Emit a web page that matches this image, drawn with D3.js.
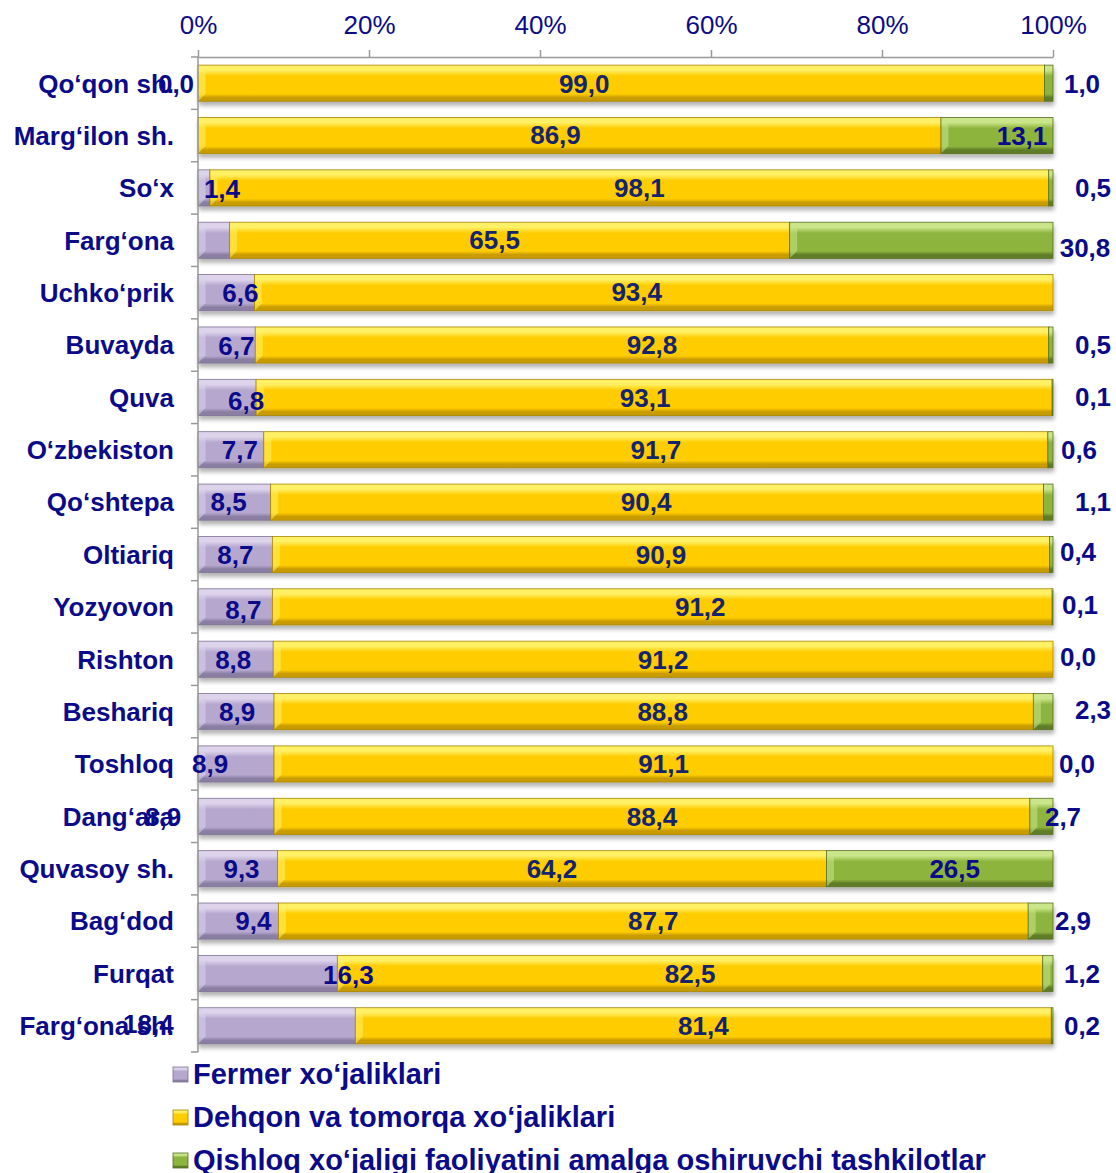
<!DOCTYPE html>
<html>
<head>
<meta charset="utf-8">
<script src="https://cdn.jsdelivr.net/npm/d3@7"></script>
<style>
  html, body { margin: 0; padding: 0; background: #fff; }
  svg { display: block; font-family: "Liberation Sans", Arial, sans-serif; }
</style>
</head>
<body>
<svg width="1116" height="1173"></svg>
<script>
// categories, top to bottom
const categories = [
  'Qo‘qon sh.', 'Marg‘ilon sh.', 'So‘x', 'Farg‘ona', 'Uchko‘prik', 'Buvayda', 'Quva',
  'O‘zbekiston', 'Qo‘shtepa', 'Oltiariq', 'Yozyovon', 'Rishton', 'Beshariq', 'Toshloq',
  'Dang‘ara', 'Quvasoy sh.', 'Bag‘dod', 'Furqat', 'Farg‘ona sh.'
];

const fermer = [0.0, 0.0, 1.4, 3.7, 6.6, 6.7, 6.8, 7.7, 8.5, 8.7, 8.7, 8.8, 8.9, 8.9, 8.9, 9.3, 9.4, 16.3, 18.4];
const dehqon = [99.0, 86.9, 98.1, 65.5, 93.4, 92.8, 93.1, 91.7, 90.4, 90.9, 91.2, 91.2, 88.8, 91.1, 88.4, 64.2, 87.7, 82.5, 81.4];
const qishloq = [1.0, 13.1, 0.5, 30.8, 0.0, 0.5, 0.1, 0.6, 1.1, 0.4, 0.1, 0.0, 2.3, 0.0, 2.7, 26.5, 2.9, 1.2, 0.2];

const seriesNames = [
  'Fermer xo‘jaliklari',
  'Dehqon va tomorqa xo‘jaliklari',
  'Qishloq xo‘jaligi faoliyatini amalga oshiruvchi tashkilotlar'
];

const xTicks = [0, 20, 40, 60, 80, 100];

// labels that the original chart leaves out
const hiddenLabels = {
  0: ['Marg‘ilon sh.', 'Farg‘ona'],
  1: [],
  2: ['Uchko‘prik']
};
// green labels that sit inside their bar
const insideGreen = { 'Marg‘ilon sh.': 'end', 'Quvasoy sh.': 'center' };

// hand placed label tweaks [dx, dy] as in the source chart
const nudges = [
  {
    'So‘x': [34, 1], 'Uchko‘prik': [8, 0], 'Buvayda': [3, 1], 'Quva': [12, 3],
    'O‘zbekiston': [-2, 0], 'Qo‘shtepa': [-20, 0], 'Oltiariq': [-15, 0], 'Yozyovon': [-7, 3],
    'Rishton': [-18, 0], 'Beshariq': [-15, 0], 'Toshloq': [-42, 0], 'Dang‘ara': [-89, 0],
    'Quvasoy sh.': [-14, 0], 'Bag‘dod': [-3, 0], 'Furqat': [33, 1], 'Farg‘ona sh.': [-185, -2]
  },
  {
    'Qo‘qon sh.': [-37, 0], 'Marg‘ilon sh.': [-14, -1], 'So‘x': [10, 0], 'Farg‘ona': [-15, -1],
    'Uchko‘prik': [-17, -1], 'Quva': [-9, 0], 'Qo‘shtepa': [-11, 0], 'Yozyovon': [38, 0],
    'Beshariq': [9, 0]
  },
  {
    'So‘x': [11, 0], 'Farg‘ona': [3, 7], 'Buvayda': [11, 0], 'Quva': [11, -1], 'O‘zbekiston': [-3, 0],
    'Qo‘shtepa': [11, 0], 'Oltiariq': [-4, -3], 'Yozyovon': [-2, -2], 'Rishton': [-4, -3],
    'Beshariq': [11, -2], 'Toshloq': [-5, 0], 'Dang‘ara': [-19, 0], 'Bag‘dod': [-9, 0]
  }
];

const colors = [
  { main: '#b6a7cf', light: '#ddd4ec', dark: '#8a7fa2', line: '#7d7292' },
  { main: '#ffcc00', light: '#fff066', dark: '#c89b00', line: '#a88600' },
  { main: '#8db43e', light: '#cbe68a', dark: '#5f7d28', line: '#566f25' }
];

const navy = '#0b0b8a';

const svg = d3.select('svg');
const defs = svg.append('defs');

colors.forEach((c, i) => {
  const g = defs.append('linearGradient')
    .attr('id', `grad-${i}`)
    .attr('x1', 0).attr('y1', 0).attr('x2', 0).attr('y2', 1);
  [[0, c.light], [0.14, c.light], [0.3, c.main], [0.8, c.main], [0.9, c.dark], [1, c.dark]]
    .forEach(([o, col]) => g.append('stop').attr('offset', o).attr('stop-color', col));
});

const shadow = defs.append('filter').attr('id', 'shadow')
  .attr('x', '-5%').attr('y', '-30%').attr('width', '110%').attr('height', '180%');
shadow.append('feGaussianBlur').attr('in', 'SourceAlpha').attr('stdDeviation', 2.2);
shadow.append('feOffset').attr('dx', 1).attr('dy', 4).attr('result', 'blur');
shadow.append('feComponentTransfer').append('feFuncA').attr('type', 'linear').attr('slope', 0.3);
const merge = shadow.append('feMerge');
merge.append('feMergeNode');
merge.append('feMergeNode').attr('in', 'SourceGraphic');

const x = d3.scaleLinear().domain([0, 100]).range([198, 1053]);
const y = d3.scaleBand().domain(categories).range([57, 1052]).paddingInner(0.31).paddingOuter(0.155);

const rows = categories.map((name, i) => ({ name, values: [fermer[i], dehqon[i], qishloq[i]] }));
const segments = [];
rows.forEach((r) => {
  let start = 0;
  r.values.forEach((v, s) => {
    segments.push({ name: r.name, s, v, x0: start, x1: start + v });
    start += v;
  });
});

// bars
const barG = svg.append('g').attr('filter', 'url(#shadow)');
barG.selectAll('rect')
  .data(segments.filter(d => d.v > 0))
  .join('rect')
  .attr('x', d => x(d.x0))
  .attr('y', d => y(d.name))
  .attr('width', d => x(d.x1) - x(d.x0))
  .attr('height', y.bandwidth())
  .attr('fill', d => `url(#grad-${d.s})`)
  .attr('stroke', d => colors[d.s].line)
  .attr('stroke-width', 0.8);

// left bevel highlight
svg.append('g').selectAll('path')
  .data(segments.filter(d => x(d.x1) - x(d.x0) > 10))
  .join('path')
  .attr('d', (d) => {
    const x0 = x(d.x0) + 0.5, y0 = y(d.name) + 0.5, h = y.bandwidth() - 1, b = 7;
    return `M${x0},${y0}L${x0 + b},${y0 + b}L${x0 + b},${y0 + h - b}L${x0},${y0 + h}Z`;
  })
  .attr('fill', d => colors[d.s].light)
  .attr('opacity', 0.55);

// top axis
const xAxis = svg.append('g')
  .attr('transform', 'translate(0,57)')
  .call(d3.axisTop(x).tickValues(xTicks).tickFormat(d => `${d}%`).tickSize(7).tickSizeOuter(0));
xAxis.select('.domain').attr('stroke', '#999').attr('stroke-width', 1.5);
xAxis.selectAll('.tick line').attr('stroke', '#999').attr('stroke-width', 1.5);
xAxis.selectAll('.tick text')
  .attr('y', -23)
  .attr('fill', navy)
  .attr('font-size', 26)
  .attr('font-family', '"Liberation Sans", Arial, sans-serif');

// left axis line with ticks between categories
const leftG = svg.append('g').attr('stroke', '#999').attr('stroke-width', 1.5);
leftG.append('line').attr('x1', 198).attr('x2', 198).attr('y1', 57).attr('y2', 1052);
const bounds = d3.range(categories.length + 1).map(i => 57 + i * y.step());
leftG.selectAll('.tk').data(bounds).join('line')
  .attr('class', 'tk')
  .attr('x1', 191).attr('x2', 198)
  .attr('y1', d => d).attr('y2', d => d);

// category labels
svg.append('g').selectAll('text')
  .data(categories)
  .join('text')
  .attr('x', 174)
  .attr('y', d => y(d) + y.bandwidth() / 2)
  .attr('dy', '0.36em')
  .attr('text-anchor', 'end')
  .attr('font-size', 26)
  .attr('font-weight', 'bold')
  .attr('fill', navy)
  .text(d => d);

// value labels
const fmt = v => v.toFixed(1).replace('.', ',');
function labelPos(d) {
  const [dx, dy] = (nudges[d.s][d.name]) || [0, 0];
  let cx;
  if (d.s === 0) cx = x(d.x1) - 22;
  else if (d.s === 1) cx = (x(d.x0) + x(d.x1)) / 2;
  else if (insideGreen[d.name] === 'center') cx = (x(d.x0) + x(d.x1)) / 2 + 15;
  else if (insideGreen[d.name] === 'end') cx = x(d.x1) - 31;
  else cx = 1082;
  return [cx + dx, y(d.name) + y.bandwidth() / 2 + dy];
}

svg.append('g').selectAll('text')
  .data(segments.filter(d => !hiddenLabels[d.s].includes(d.name)))
  .join('text')
  .attr('x', d => labelPos(d)[0])
  .attr('y', d => labelPos(d)[1])
  .attr('dy', '0.36em')
  .attr('text-anchor', 'middle')
  .attr('font-size', 26)
  .attr('font-weight', 'bold')
  .attr('fill', d => (d.s === 1 ? '#15246e' : navy))
  .text(d => fmt(d.v));

// legend
const legend = svg.append('g').selectAll('g')
  .data(seriesNames)
  .join('g')
  .attr('transform', (d, i) => `translate(173,${1074 + i * 43})`);
legend.append('rect')
  .attr('x', 0).attr('y', -7).attr('width', 15).attr('height', 15)
  .attr('fill', (d, i) => `url(#grad-${i})`)
  .attr('stroke', (d, i) => colors[i].line)
  .attr('stroke-width', 0.8);
legend.append('text')
  .attr('x', 20)
  .attr('dy', '0.36em')
  .attr('font-size', 29)
  .attr('font-weight', 'bold')
  .attr('fill', navy)
  .text(d => d);
</script>
</body>
</html>
